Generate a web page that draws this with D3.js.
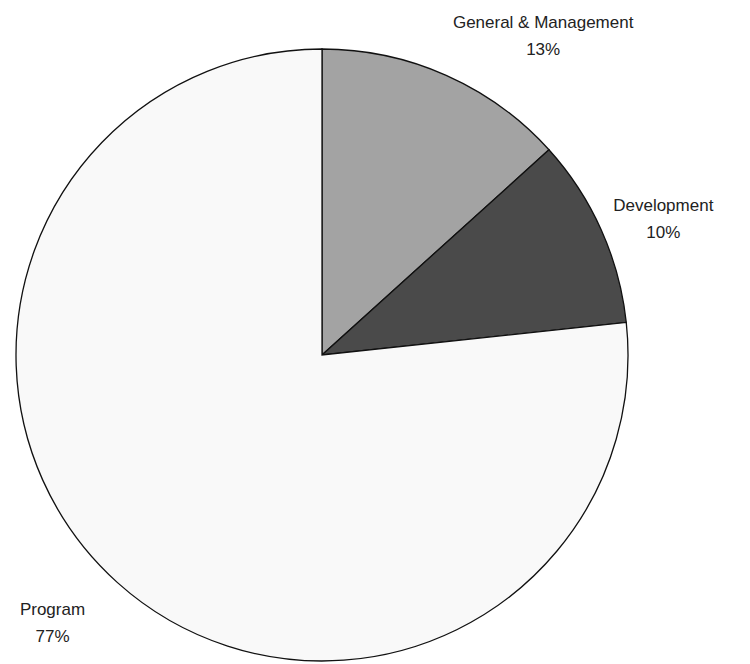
<!DOCTYPE html>
<html>
<head>
<meta charset="utf-8">
<script src="https://cdn.jsdelivr.net/npm/d3@7"></script>
<style>
  body { margin: 0; background: #fff; }
  text { font-family: "Liberation Sans", Arial, sans-serif; fill: #222; }
</style>
</head>
<body>
<div id="chart"></div>
<script>
// data
var categories = ["General & Management", "Development", "Program"];
var values = [13.3, 10.0, 76.7];
var colors = ["#a3a3a3", "#4a4a4a", "#f9f9f9"];

// label offsets from the slice's outer mid point (layout only)
var labelShift = [[97, -41], [62, -13], [-65, 38]];

var width = 750, height = 664;
var cx = 322, cy = 355, radius = 306;

var svg = d3.select("#chart").append("svg")
  .attr("width", width)
  .attr("height", height);

var g = svg.append("g").attr("transform", "translate(" + cx + "," + cy + ")");

var pie = d3.pie().sort(null).value(function(d) { return d; });
var arc = d3.arc().innerRadius(0).outerRadius(radius);
var arcs = pie(values);

g.selectAll("path.slice")
  .data(arcs)
  .enter()
  .append("path")
  .attr("class", "slice")
  .attr("d", arc)
  .attr("fill", function(d, i) { return colors[i]; })
  .attr("stroke", "#111")
  .attr("stroke-width", 1.3);

var total = d3.sum(values);
var labels = g.selectAll("g.label")
  .data(arcs)
  .enter()
  .append("g")
  .attr("class", "label")
  .attr("transform", function(d, i) {
    var a = (d.startAngle + d.endAngle) / 2;
    var x = radius * Math.sin(a) + labelShift[i][0];
    var y = -radius * Math.cos(a) + labelShift[i][1];
    return "translate(" + x + "," + y + ")";
  });

labels.append("text")
  .attr("text-anchor", "middle")
  .attr("font-size", 17)
  .attr("y", -6)
  .text(function(d, i) { return categories[i]; });

labels.append("text")
  .attr("text-anchor", "middle")
  .attr("font-size", 17)
  .attr("y", 21)
  .text(function(d, i) { return Math.round(values[i] / total * 100) + "%"; });
</script>
</body>
</html>
